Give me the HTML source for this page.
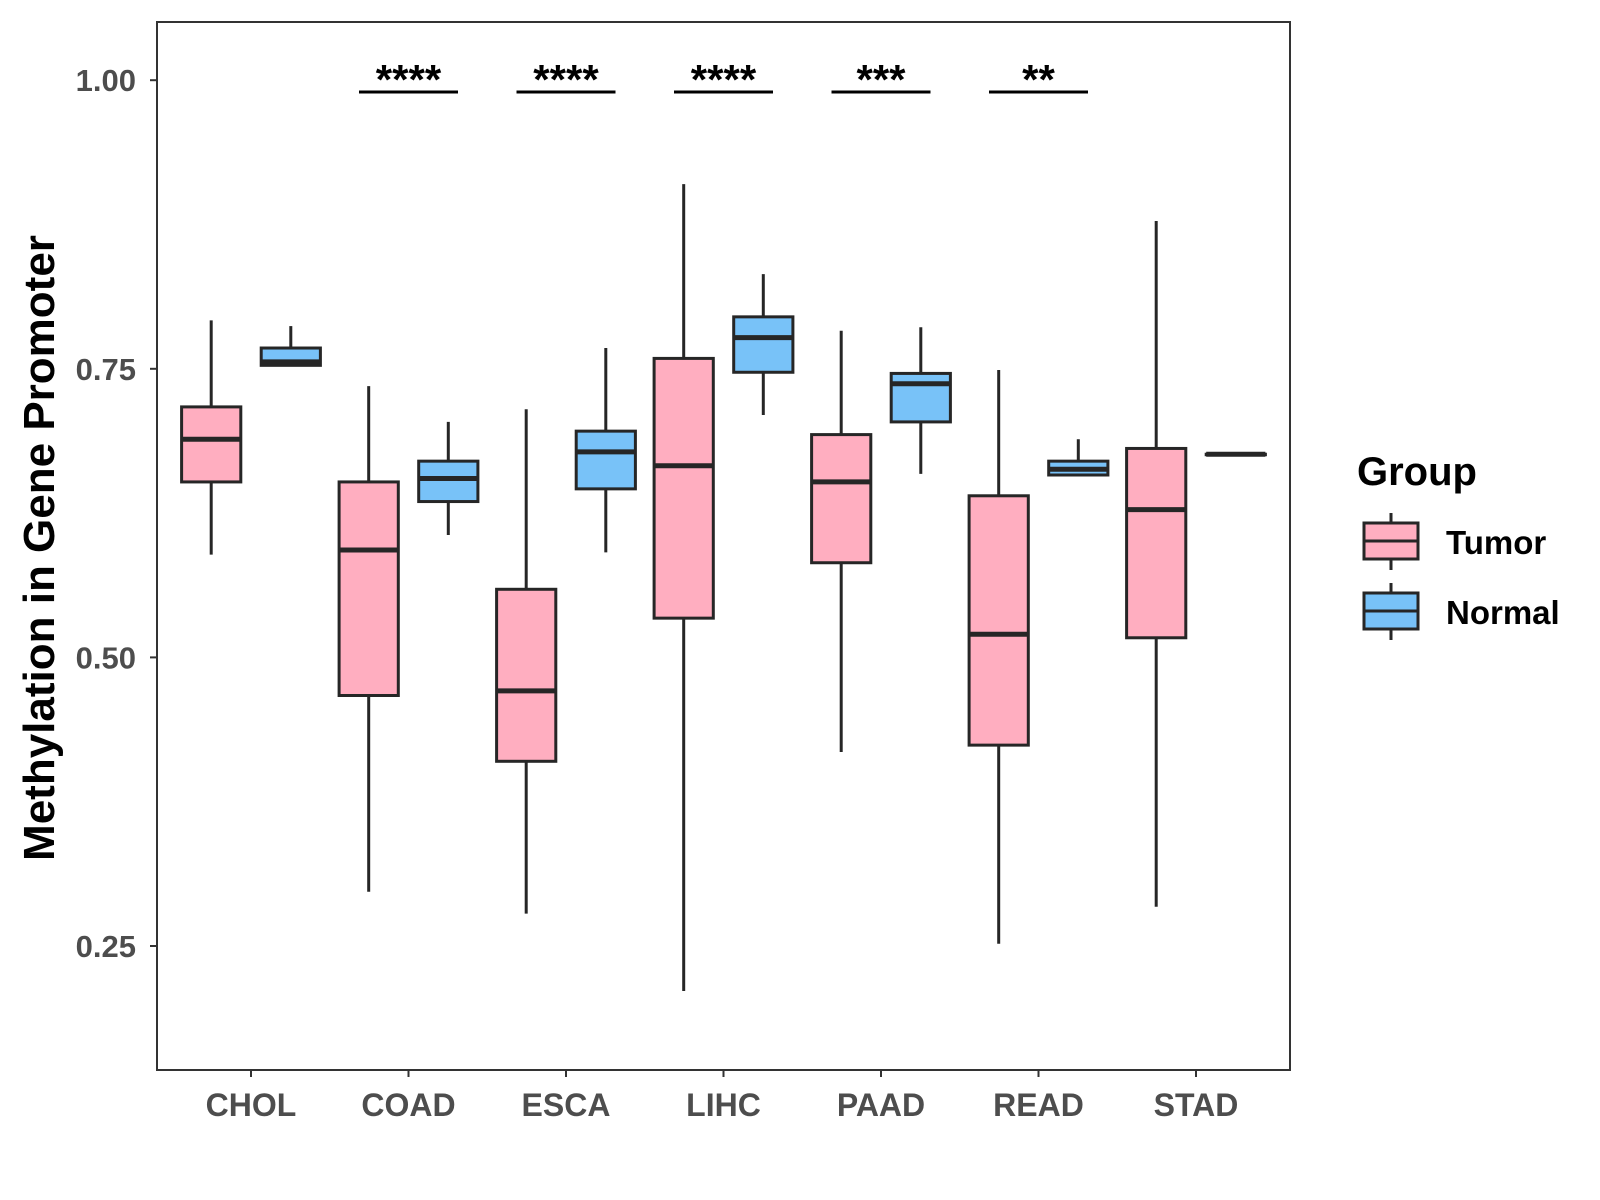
<!DOCTYPE html>
<html><head><meta charset="utf-8"><style>
body{margin:0;background:#fff;}
svg{display:block;font-family:"Liberation Sans",Arial,sans-serif;}
</style></head><body>
<svg id="chart" width="1600" height="1200">
<rect x="0" y="0" width="1600" height="1200" fill="#fff"/>
<g id="marks"></g>
</svg>
<script>
const categories=["CHOL","COAD","ESCA","LIHC","PAAD","READ","STAD"];
const tumorLow=[0.589,0.297,0.278,0.211,0.418,0.252,0.284];
const tumorQ1=[0.652,0.467,0.410,0.534,0.582,0.424,0.517];
const tumorMed=[0.689,0.593,0.471,0.666,0.652,0.520,0.628];
const tumorQ3=[0.717,0.652,0.559,0.759,0.693,0.640,0.681];
const tumorHigh=[0.792,0.735,0.715,0.910,0.783,0.749,0.878];
const normalLow=[0.753,0.606,0.591,0.710,0.659,0.658,0.676];
const normalQ1=[0.753,0.635,0.646,0.747,0.704,0.658,0.676];
const normalMed=[0.756,0.655,0.678,0.777,0.737,0.663,0.676];
const normalQ3=[0.768,0.670,0.696,0.795,0.746,0.670,0.676];
const normalHigh=[0.787,0.704,0.768,0.832,0.786,0.689,0.676];
const sigLabels=["","****","****","****","***","**",""];
const yTicks=[0.25,0.5,0.75,1.0];
const yTickLabels=["0.25","0.50","0.75","1.00"];

const NS="http://www.w3.org/2000/svg";
const L=157,R=1290,T=22,B=1070;
function yS(v){return 946-(v-0.25)*1154.4;}
function xS(i){return 251+i*157.5;}
const g=document.getElementById('marks');
function mk(tag,at,txt){const e=document.createElementNS(NS,tag);for(const k in at)e.setAttribute(k,at[k]);if(txt!==undefined)e.textContent=txt;g.appendChild(e);return e;}
const ln="#262626";
let e=mk('rect',{x:L,y:T,width:R-L,height:B-T,fill:'none',stroke:'#333',"stroke-width":2});


yTicks.forEach((v,i)=>{
 let t=mk('line',{x1:L-7,x2:L,y1:yS(v),y2:yS(v),stroke:'#333',"stroke-width":2});
 
 
 let l=mk('text',{x:L-21,y:yS(v)+11,"text-anchor":"end","font-size":31,"font-weight":"bold",fill:"#4d4d4d"},yTickLabels[i]);
 
 
});
function box(cx,lo,q1,md,q3,hi,fill,name){
 const w=59.2;
 let wl=mk('line',{x1:cx,x2:cx,y1:yS(hi),y2:yS(lo),stroke:ln,"stroke-width":3});
 
 
 let r=mk('rect',{x:cx-w/2,y:yS(q3),width:w,height:Math.max(yS(q1)-yS(q3),0.5),fill:fill,stroke:ln,"stroke-width":3});
 
 
 let m=mk('line',{x1:cx-w/2,x2:cx+w/2,y1:yS(md),y2:yS(md),stroke:ln,"stroke-width":5});
 
 
}
categories.forEach((c,i)=>{
 const cx=xS(i);
 box(cx-39.8,tumorLow[i],tumorQ1[i],tumorMed[i],tumorQ3[i],tumorHigh[i],'#FFAEC0','tumor-'+c.toLowerCase());
 box(cx+39.8,normalLow[i],normalQ1[i],normalMed[i],normalQ3[i],normalHigh[i],'#78C2F8','normal-'+c.toLowerCase());
 let t=mk('line',{x1:cx,x2:cx,y1:B,y2:B+7,stroke:'#333',"stroke-width":2});
 
 
 let l=mk('text',{x:cx,y:B+46,"text-anchor":"middle","font-size":32,"font-weight":"bold",fill:"#4d4d4d"},c);
 
 
 if(sigLabels[i]){
  let b=mk('line',{x1:cx-49.5,x2:cx+49.5,y1:92,y2:92,stroke:'#000',"stroke-width":3});
  
  
  let s=mk('text',{x:cx,y:94,"text-anchor":"middle","font-size":42,"font-weight":"bold",fill:"#000"},sigLabels[i]);
  
  
 }
});
let yt=mk('text',{x:0,y:0,transform:"translate(54,548) rotate(-90)","text-anchor":"middle","font-size":44,"font-weight":"bold",fill:"#000"},"Methylation in Gene Promoter");


let lg=mk('text',{x:1357,y:485,"font-size":40,"font-weight":"bold",fill:"#000"},"Group");


[["Tumor","#FFAEC0",523],["Normal","#78C2F8",593]].forEach(([n,f,y0])=>{
 let w=mk('line',{x1:1391,x2:1391,y1:y0-10,y2:y0+47,stroke:ln,"stroke-width":3});
 
 
 let r=mk('rect',{x:1364,y:y0,width:54,height:36,fill:f,stroke:ln,"stroke-width":3});
 
 
 let m=mk('line',{x1:1364,x2:1418,y1:y0+18,y2:y0+18,stroke:ln,"stroke-width":3});
 
 
 let t=mk('text',{x:1446,y:y0+31,"font-size":33,"font-weight":"bold",fill:"#000"},n);
 
 
});
</script>
</body></html>
